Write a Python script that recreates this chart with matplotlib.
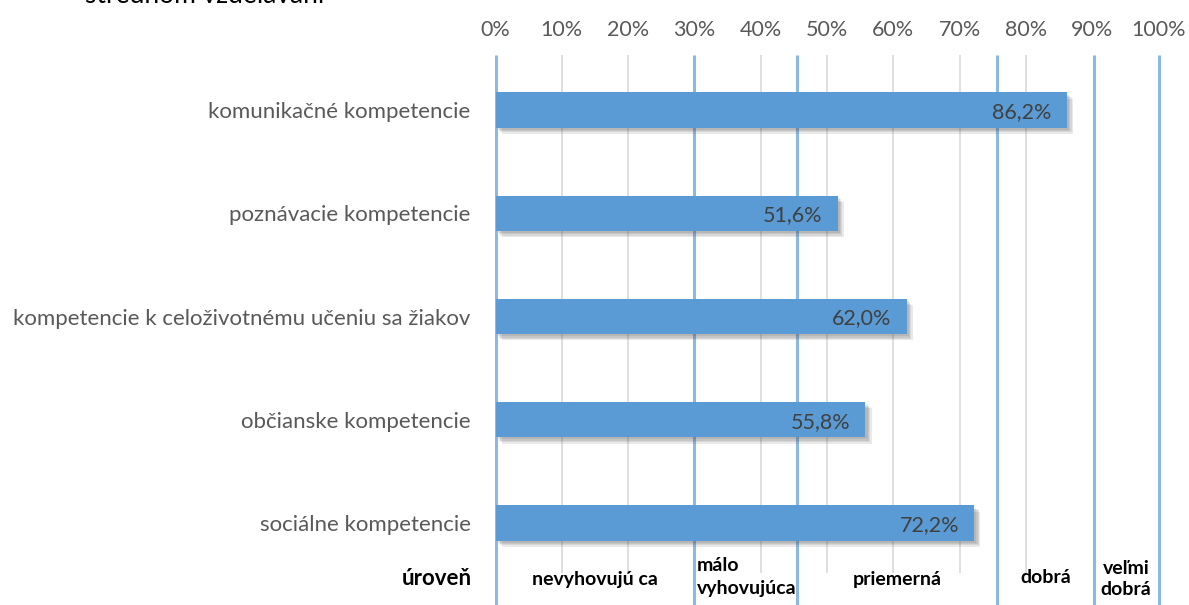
import matplotlib
matplotlib.use("Agg")
import matplotlib.pyplot as plt
import matplotlib.patheffects as pe

categories = ["komunikačné kompetencie", "poznávacie kompetencie",
              "kompetencie k celoživotnému učeniu sa žiakov",
              "občianske kompetencie", "sociálne kompetencie"]
values = [86.2, 51.6, 62.0, 55.8, 72.2]
value_labels = ["86,2%", "51,6%", "62,0%", "55,8%", "72,2%"]
xticks = [0, 10, 20, 30, 40, 50, 60, 70, 80, 90, 100]
xtick_labels = [f"{t}%" for t in xticks]
level_bounds = [0, 30, 45.5, 75.7, 90.2, 100]
level_names = ["nevyhovujú ca", "málo\nvyhovujúca", "priemerná", "dobrá", "veľmi\ndobrá"]

FONT = ["Lato", "DejaVu Sans"]
plt.rcParams['font.family'] = FONT

W, H = 1189, 605
fig = plt.figure(figsize=(W / 100, H / 100), dpi=100)
ax = fig.add_axes([495.5 / W, 0, (1158.5 - 495.5) / W, 1 - 55 / H])

ytop, ybot = -0.533, 4.794
ax.set_xlim(0, 100)
ax.set_ylim(ybot, ytop)

# gray grid lines
grid_bottom = 4.48
for t in xticks:
    if t in (0, 30, 90, 100):
        continue
    ax.plot([t, t], [ytop, grid_bottom], color="#D9D9D9", lw=1.2, zorder=1,
            solid_capstyle="butt")

# level boundary lines
for b in level_bounds:
    ax.plot([b, b], [ytop, ybot], color="#8DB8E3", lw=2.2, zorder=2,
            solid_capstyle="butt", clip_on=False)

ypos = list(range(len(categories)))
bars = ax.barh(ypos, values, height=0.34, color="#5B9BD5", zorder=3)
shadow = [pe.SimplePatchShadow(offset=(o, -o), shadow_rgbFace="#505050", alpha=0.12)
          for o in (4.5, 3.5, 2.5, 1.5)]
for b in bars:
    b.set_path_effects(shadow + [pe.Normal()])

for y, v, lab in zip(ypos, values, value_labels):
    ax.text(v - 2.3, y + 0.02, lab, ha="right", va="center", fontsize=15.5,
            color="#404040", zorder=4)

ax.set_yticks(ypos)
ax.set_yticklabels(categories, fontsize=16, color="#595959")
ax.tick_params(axis="y", length=0, pad=18)

ax.xaxis.tick_top()
ax.set_xticks(xticks)
ax.set_xticklabels(xtick_labels, fontsize=15.5, color="#595959")
ax.tick_params(axis="x", length=0, pad=11)

for s in ax.spines.values():
    s.set_visible(False)

# level labels row
ax.text(-3.6, 4.54, "úroveň", ha="right", va="center", fontsize=16,
        fontweight="bold", color="black")
mids = [(level_bounds[i] + level_bounds[i + 1]) / 2 for i in range(len(level_names))]
ax.text(mids[0], 4.55, level_names[0], ha="center", va="center", fontsize=14,
        fontweight="bold", color="black")
ax.text(level_bounds[1] + 0.4, 4.33, level_names[1], ha="left", va="top", fontsize=14,
        fontweight="bold", color="black", linespacing=1.45, clip_on=False)
ax.text(mids[2], 4.55, level_names[2], ha="center", va="center", fontsize=14,
        fontweight="bold", color="black")
ax.text(mids[3], 4.53, level_names[3], ha="center", va="center", fontsize=14,
        fontweight="bold", color="black")
ax.text(mids[4], 4.54, level_names[4], ha="center", va="center", fontsize=14,
        fontweight="bold", color="black", linespacing=1.25)

# clipped title text at the very top
fig.text(85 / W, 1 - 3 / H, "strednom vzdelávaní", ha="left", va="baseline",
         fontsize=19, color="black")

fig.savefig("out.png", dpi=100)
